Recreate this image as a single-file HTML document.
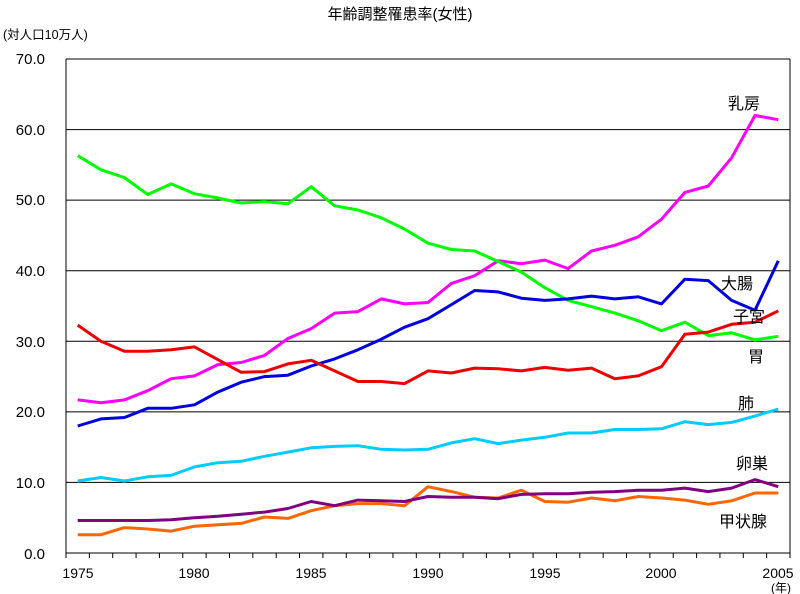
<!DOCTYPE html>
<html><head><meta charset="utf-8"><style>
html,body{margin:0;padding:0;background:#fff;}
svg{display:block;}
text{font-family:"Liberation Sans","Noto Sans CJK JP",sans-serif;fill:#000;}
</style></head><body>
<svg id="s" width="800" height="594" viewBox="0 0 800 594" xmlns="http://www.w3.org/2000/svg">
<text x="400" y="19" font-size="15" text-anchor="middle">年齢調整罹患率(女性)</text>
<text x="3" y="39" font-size="12.5">(対人口10万人)</text>
<g font-size="15" text-anchor="end" font-weight="bold" style="font-weight:normal">
<text x="45" y="64">70.0</text><text x="45" y="135">60.0</text><text x="45" y="205">50.0</text>
<text x="45" y="276">40.0</text><text x="45" y="347">30.0</text><text x="45" y="417">20.0</text>
<text x="45" y="488">10.0</text><text x="45" y="559">0.0</text>
</g>
<g id="grid" stroke="#000" stroke-width="1"></g>
<g id="lines" fill="none" stroke-width="3" stroke-linejoin="round"></g>
<g font-size="14" text-anchor="middle">
<text x="78" y="578">1975</text><text x="194" y="578">1980</text><text x="311" y="578">1985</text>
<text x="428" y="578">1990</text><text x="545" y="578">1995</text><text x="661" y="578">2000</text>
<text x="778" y="578">2005</text><text x="781" y="592" font-size="12">(年)</text>
</g>
<g font-size="16">
<text x="728" y="109">乳房</text><text x="721" y="289">大腸</text><text x="733" y="322">子宮</text>
<text x="748" y="362">胃</text><text x="738" y="409">肺</text><text x="736" y="469">卵巣</text>
<text x="719" y="527">甲状腺</text>
</g>
</svg>
<script>
var L=66,R=790,T=59,B=553,sc=(B-T)/70,dx=(R-L)/31;
var g=document.getElementById('grid'),ns='http://www.w3.org/2000/svg';
function el(p,t,a){var e=document.createElementNS(ns,t);for(var k in a)e.setAttribute(k,a[k]);p.appendChild(e);return e;}
for(var v=10;v<=70;v+=10){var y=B-v*sc;el(g,'line',{x1:L,x2:R,y1:y,y2:y});}
el(g,'line',{x1:L,x2:L,y1:T,y2:B});el(g,'line',{x1:R,x2:R,y1:T,y2:B});el(g,'line',{x1:L,x2:R,y1:B,y2:B});
for(var i=0;i<=31;i++){var x=L+i*dx;el(g,'line',{x1:x,x2:x,y1:B,y2:B+5});}
var D=[
['#ff00ff',[21.7,21.3,21.7,23,24.7,25.1,26.7,27,28,30.4,31.8,34,34.2,36,35.3,35.5,38.2,39.3,41.4,41,41.5,40.3,42.8,43.6,44.8,47.3,51.1,52,56,62,61.4]],
['#00ff00',[56.3,54.3,53.2,50.8,52.3,50.9,50.3,49.6,49.8,49.5,51.9,49.2,48.6,47.5,45.9,43.9,43,42.8,41.3,39.8,37.6,35.8,34.9,34,32.9,31.5,32.7,30.8,31.2,30.2,30.7]],
['#0000e0',[18,19,19.2,20.5,20.5,21,22.8,24.2,25,25.2,26.5,27.5,28.8,30.3,32,33.2,35.2,37.2,37,36.1,35.8,36,36.4,36,36.3,35.3,38.8,38.6,35.8,34.4,41.4]],
['#ee0000',[32.3,30,28.6,28.6,28.8,29.2,27.4,25.6,25.7,26.8,27.3,25.8,24.3,24.3,24,25.8,25.5,26.2,26.1,25.8,26.3,25.9,26.2,24.7,25.1,26.4,31,31.3,32.4,32.7,34.3]],
['#00ccff',[10.2,10.7,10.2,10.8,11,12.2,12.8,13,13.7,14.3,14.9,15.1,15.2,14.7,14.6,14.7,15.6,16.2,15.5,16,16.4,17,17,17.5,17.5,17.6,18.6,18.2,18.5,19.4,20.4]],
['#ff6600',[2.6,2.6,3.6,3.4,3.1,3.8,4,4.2,5.1,4.9,6,6.7,7,7,6.7,9.4,8.7,7.9,7.8,8.9,7.3,7.2,7.8,7.4,8,7.8,7.5,6.9,7.4,8.5,8.5]],
['#800080',[4.6,4.6,4.6,4.6,4.7,5,5.2,5.5,5.8,6.3,7.3,6.7,7.5,7.4,7.3,8,7.9,7.9,7.7,8.3,8.4,8.4,8.6,8.7,8.9,8.9,9.2,8.7,9.2,10.4,9.4]]];
var lg=document.getElementById('lines');
D.forEach(function(s){var p=s[1].map(function(v,i){return (L+dx*(i+0.5)).toFixed(1)+','+(B-v*sc).toFixed(1);}).join(' ');
el(lg,'polyline',{points:p,stroke:s[0]});});
</script>
</body></html>
